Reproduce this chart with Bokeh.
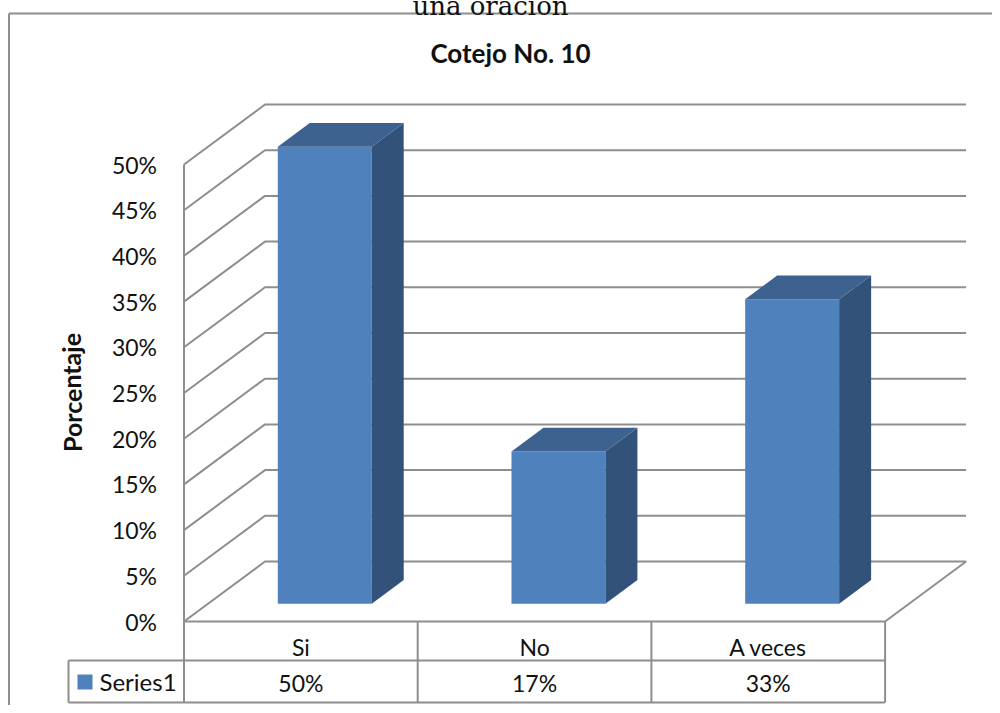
from bokeh.plotting import figure
from bokeh.models import Range1d, FixedTicker, PrintfTickFormatter
from bokeh.core.properties import value
from bokeh.embed import file_html
from bokeh.resources import INLINE

categories = ["Si", "No", "A veces"]
series_name = "Series1"
values = [50, 16.67, 33.33]
table_labels = ["50%", "17%", "33%"]
y_ticks = [0, 5, 10, 15, 20, 25, 30, 35, 40, 45, 50]
title = "Cotejo No. 10"
y_title = "Porcentaje"
above_text = "una oración"

W, H = 992, 705
U = 233.7      # px per category
V = 9.14       # px per percent
X0, Y0 = 183.5, 621
DX, DY = 81.0, 60.0   # depth of the 3D box in px
GREY = "#8E8E8E"
FRONT, SIDE, TOP = "#4F81BD", "#32527A", "#3E628F"
FONT = value("Lato")

def px(x): return (x - X0) / U
def py(y): return (Y0 - y) / V
def proj(cat, val, depth):
    return cat + depth * DX / U, val + depth * DY / V

p = figure(width=W, height=H, output_backend="svg", toolbar_location=None,
           x_range=Range1d(px(0), px(W)), y_range=Range1d(py(H), py(0)),
           min_border=0, outline_line_color=None, background_fill_color="white",
           border_fill_color="white")
p.grid.visible = False
p.xaxis.visible = False

ya = p.yaxis[0]
ya.fixed_location = 0
ya.ticker = FixedTicker(ticks=y_ticks)
ya.formatter = PrintfTickFormatter(format="%d%%")
ya.major_tick_line_color = None
ya.minor_tick_line_color = None
ya.axis_line_color = None
ya.major_label_standoff = 21
ya.major_label_text_font = "Lato"
ya.major_label_text_font_size = "23px"
ya.major_label_text_color = "#111111"

p.line([px(8.5), px(8.5)], [py(H), py(13)], line_color=GREY, line_width=2)
p.line([px(8.5), px(W)], [py(13), py(13)], line_color=GREY, line_width=2)

for t in y_ticks:
    a = proj(0, t, 0); b = proj(0, t, 1); c = proj(3, t, 1)
    p.line([a[0], b[0], c[0]], [a[1], b[1], c[1]], line_color=GREY, line_width=2)
p.line([0, 0], [0, y_ticks[-1]], line_color=GREY, line_width=2)
f = proj(3, 0, 0); g = proj(3, 0, 1)
p.line([f[0], g[0]], [f[1], g[1]], line_color=GREY, line_width=2)

BW = 0.402
D1, D2 = 0.295, 0.69
for i, v in enumerate(values):
    l, r = i + 0.5 - BW / 2, i + 0.5 + BW / 2
    lf = proj(l, 0, D1); rf = proj(r, 0, D1); rb = proj(r, 0, D2); lb = proj(l, 0, D2)
    p.patch([lf[0], rf[0], rf[0], lf[0]], [lf[1], rf[1], rf[1] + v, lf[1] + v],
            fill_color=FRONT, line_color=None)
    p.patch([rf[0], rb[0], rb[0], rf[0]], [rf[1], rb[1], rb[1] + v, rf[1] + v],
            fill_color=SIDE, line_color=None)
    p.patch([lf[0], rf[0], rb[0], lb[0]], [lf[1] + v, rf[1] + v, rb[1] + v, lb[1] + v],
            fill_color=TOP, line_color=None)

ROW1, ROW2, ROW3 = py(621), py(660), py(702)
n = len(categories)
for i in range(n + 1):
    p.line([i, i], [ROW1, ROW3], line_color=GREY, line_width=2)
p.line([0, n], [ROW1, ROW1], line_color=GREY, line_width=2)
p.line([px(68), n], [ROW2, ROW2], line_color=GREY, line_width=2)
p.line([px(68), n], [ROW3, ROW3], line_color=GREY, line_width=2)
p.line([px(68), px(68)], [ROW2, ROW3], line_color=GREY, line_width=2)
p.quad(left=px(77), right=px(92), top=py(674), bottom=py(689), fill_color=FRONT, line_color=None)

def text(x, y, s, size, **kw):
    p.text([x], [y], text=[s], text_font=kw.pop("font", FONT),
           text_font_size=size, text_color="#111111",
           text_baseline=kw.pop("baseline", "middle"), text_align=kw.pop("align", "center"), **kw)

for i, c in enumerate(categories):
    text(i + 0.5, py(646), c, "23px")
for i, s in enumerate(table_labels):
    text(i + 0.5, py(682), s, "23px")
text(px(99), py(681), series_name, "24px", align="left")
text(px(510), py(52), title, "26px", text_font_style="bold")
text(px(71), py(392), y_title, "25px", text_font_style="bold", angle=1.5708)
text(px(490), py(5), above_text, "26px", font=value("DejaVu Serif"), baseline="alphabetic")

open("out.html", "w").write(file_html(p, INLINE))
